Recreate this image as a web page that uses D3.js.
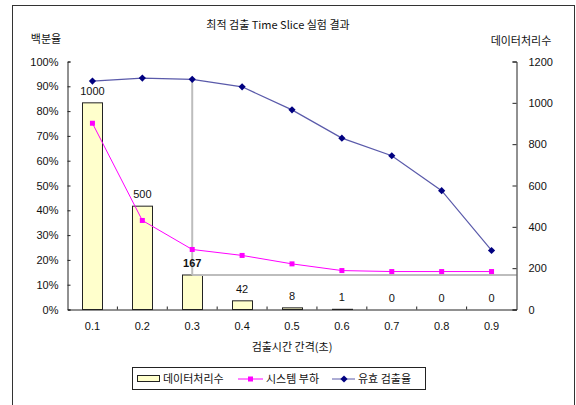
<!DOCTYPE html>
<html>
<head>
<meta charset="utf-8">
<script src="https://cdn.jsdelivr.net/npm/d3@7"></script>
<style>
  body { margin: 0; background: #fff; }
  svg text { font-family: "Liberation Sans", Arial, "Noto Sans CJK KR", sans-serif; fill: #111; }
  .kr { font-family: "Noto Sans CJK KR", "Liberation Sans", sans-serif; }
</style>
</head>
<body>
<svg id="chart" width="576" height="405"></svg>
<script>
// Detection interval (seconds)
const categories = ["0.1", "0.2", "0.3", "0.4", "0.5", "0.6", "0.7", "0.8", "0.9"];
// Processed data count (right axis)
const dataCount = [1000, 500, 167, 42, 8, 1, 0, 0, 0];
// System load, percent (left axis)
const systemLoad = [75.1, 35.9, 24.2, 21.8, 18.4, 15.7, 15.3, 15.3, 15.3];
// Valid detection rate, percent (left axis)
const detectRate = [92.1, 93.3, 92.8, 89.8, 80.5, 69.1, 62.0, 47.9, 23.8];
const leftTicks = [0, 10, 20, 30, 40, 50, 60, 70, 80, 90, 100];
const rightTicks = [0, 200, 400, 600, 800, 1000, 1200];
const chosenIndex = 2; // 0.3 s

const svg = d3.select("#chart");

// outer frame
svg.append("rect").attr("x", 12.5).attr("y", 5.5).attr("width", 562).attr("height", 420)
  .attr("fill", "none").attr("stroke", "#333").attr("stroke-width", 1);

const L = 67.5, R = 516.5, T = 61.5, B = 309.5;

const x = d3.scaleBand().domain(categories).range([L, R]);
const yL = d3.scaleLinear().domain([0, 100]).range([B, T]);
const yR = d3.scaleLinear().domain([0, 1200]).range([B, T]);

// title and axis titles
svg.append("text").attr("class", "kr").attr("x", 278).attr("y", 29)
  .attr("text-anchor", "middle").attr("font-size", 11).text("최적 검출 Time Slice 실험 결과");
svg.append("text").attr("class", "kr").attr("x", 46).attr("y", 43)
  .attr("text-anchor", "middle").attr("font-size", 11).text("백분율");
svg.append("text").attr("class", "kr").attr("x", 521).attr("y", 45)
  .attr("text-anchor", "middle").attr("font-size", 11).text("데이터처리수");
svg.append("text").attr("class", "kr").attr("x", 292).attr("y", 351)
  .attr("text-anchor", "middle").attr("font-size", 11).text("검출시간 간격(초)");

// bars
const bw = 20;
svg.append("g").selectAll("rect").data(dataCount).join("rect")
  .attr("x", (d, i) => Math.round(x(categories[i]) + x.bandwidth() / 2 - bw / 2) + 0.5)
  .attr("y", d => yR(d))
  .attr("width", bw)
  .attr("height", d => B - yR(d))
  .attr("fill", "#FFFFCC").attr("stroke", "#222").attr("stroke-width", 1);

// guide lines at the chosen interval
const cx = x(categories[chosenIndex]) + x.bandwidth() / 2;
svg.append("line").attr("x1", cx).attr("x2", cx)
  .attr("y1", yL(detectRate[chosenIndex])).attr("y2", yR(dataCount[chosenIndex]))
  .attr("stroke", "#bdbdbd").attr("stroke-width", 2);
svg.append("line").attr("x1", cx).attr("x2", R)
  .attr("y1", yR(dataCount[chosenIndex])).attr("y2", yR(dataCount[chosenIndex]))
  .attr("stroke", "#bdbdbd").attr("stroke-width", 2);

// bar value labels
svg.append("g").selectAll("text").data(dataCount).join("text")
  .attr("x", (d, i) => x(categories[i]) + x.bandwidth() / 2)
  .attr("y", d => yR(d) - 8)
  .attr("text-anchor", "middle").attr("font-size", 11)
  .attr("font-weight", (d, i) => i === chosenIndex ? "bold" : "normal")
  .text(d => d);

// axes
const axL = d3.axisLeft(yL).tickValues(leftTicks).tickSize(-3).tickPadding(9).tickFormat(d => d + "%");
const gL = svg.append("g").attr("transform", `translate(${L},0)`).call(axL);
const axR = d3.axisRight(yR).tickValues(rightTicks).tickSize(-4).tickPadding(12).tickFormat(d => d);
const gR = svg.append("g").attr("transform", `translate(${R},0)`).call(axR);
const axB = d3.axisBottom(x).tickSize(0).tickPadding(13);
const gB = svg.append("g").attr("transform", `translate(0,${B})`).call(axB);
// category boundary ticks
svg.append("g").selectAll("line").data(categories.slice(1)).join("line")
  .attr("x1", d => x(d)).attr("x2", d => x(d)).attr("y1", B).attr("y2", B - 3)
  .attr("stroke", "#222");
[gL, gR, gB].forEach(g => {
  g.selectAll("path.domain").attr("stroke", "#222");
  g.selectAll(".tick line").attr("stroke", "#222");
  g.selectAll("text").attr("font-size", 11).attr("font-family", "Liberation Sans, Arial, sans-serif").attr("fill", "#111");
});

// line series
const px = i => x(categories[i]) + x.bandwidth() / 2;
const lineGen = d3.line().x((d, i) => px(i)).y(d => yL(d));
const diamondPath = "M0,-3.6L3.6,0L0,3.6L-3.6,0Z";

svg.append("path").datum(systemLoad).attr("d", lineGen)
  .attr("fill", "none").attr("stroke", "#FF00FF").attr("stroke-width", 1);
svg.append("g").selectAll("rect").data(systemLoad).join("rect")
  .attr("x", (d, i) => px(i) - 2.5).attr("y", d => yL(d) - 2.5)
  .attr("width", 5).attr("height", 5).attr("fill", "#FF00FF");

svg.append("path").datum(detectRate).attr("d", lineGen)
  .attr("fill", "none").attr("stroke", "#5a5aaa").attr("stroke-width", 1.2);
svg.append("g").selectAll("path").data(detectRate).join("path")
  .attr("transform", (d, i) => `translate(${px(i)},${yL(d)})`)
  .attr("d", diamondPath).attr("fill", "#000080");

// legend
const lg = svg.append("g");
lg.append("rect").attr("x", 132.5).attr("y", 367.5).attr("width", 293).attr("height", 22)
  .attr("fill", "#fff").attr("stroke", "#222");
lg.append("rect").attr("x", 137.5).attr("y", 375.5).attr("width", 22).attr("height", 6)
  .attr("fill", "#FFFFCC").attr("stroke", "#222");
lg.append("text").attr("class", "kr").attr("x", 163).attr("y", 383).attr("font-size", 11).text("데이터처리수");
lg.append("line").attr("x1", 238).attr("x2", 263).attr("y1", 379).attr("y2", 379).attr("stroke", "#FF00FF");
lg.append("rect").attr("x", 248).attr("y", 376.5).attr("width", 5).attr("height", 5).attr("fill", "#FF00FF");
lg.append("text").attr("class", "kr").attr("x", 266).attr("y", 383).attr("font-size", 11).text("시스템 부하");
lg.append("line").attr("x1", 332).attr("x2", 355).attr("y1", 379).attr("y2", 379).attr("stroke", "#5a5aaa");
lg.append("path").attr("transform", "translate(344,379)").attr("d", diamondPath).attr("fill", "#000080");
lg.append("text").attr("class", "kr").attr("x", 358).attr("y", 383).attr("font-size", 11).text("유효 검출율");
</script>
</body>
</html>
